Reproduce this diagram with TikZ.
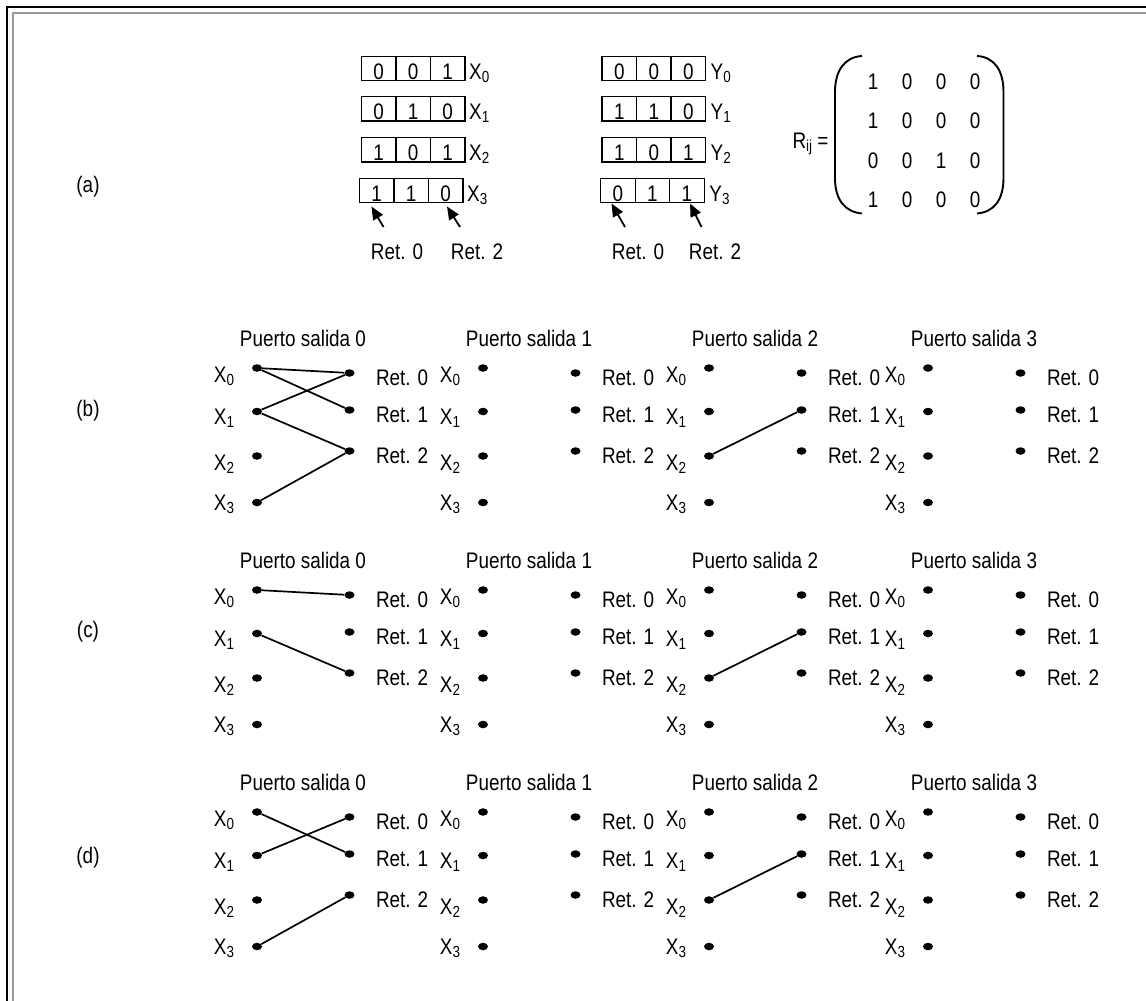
\documentclass[tikz,border=0pt]{standalone}
\usepackage{fontspec}
\setmainfont{Liberation Sans}[FakeStretch=0.84]
\usetikzlibrary{positioning,arrows.meta,shapes.geometric,matrix}

% lowered small index, as in X_0 or R_ij
\newcommand{\idx}[1]{\raisebox{-3pt}{\fontsize{16}{16}\selectfont #1}}

\tikzstyle{cell} = [rectangle, draw, line width=1.4pt, outer sep=0pt,
    inner xsep=0pt, inner ysep=1.2pt, minimum width=34.5pt,
    text height=22pt, text depth=0pt]
\tikzstyle{dotn} = [ellipse, fill, inner sep=0pt, minimum width=10pt, minimum height=7.5pt]
\tikzstyle{wire} = [line width=1.7pt]
\tikzstyle{ptr} = [line width=1.8pt, -{Triangle[length=13pt,width=11pt]}]

\begin{document}
\begin{tikzpicture}[x=1pt, y=-1pt, font=\fontsize{22.5}{26}\selectfont]
    \useasboundingbox (0,0) rectangle (1146,1001);

    % double frame
    \draw[line width=2pt] (1146,6.5) -- (6.5,6.5) -- (6.5,1001);
    \draw[line width=2.2pt, black!40] (1146,12.8) -- (12.8,12.8) -- (12.8,1001);

    \node[anchor=base] (la) at (88,192) {(a)};
    \node[anchor=base] (lb) at (88,416) {(b)};
    \node[anchor=base] (lc) at (88,637) {(c)};
    \node[anchor=base] (ld) at (88,863) {(d)};

    % input words X and output words Y
    \foreach \i/\ca/\cb/\cc/\yy/\xx in {0/0/0/1/68.5/361.5, 1/0/1/0/108.8/361.5,
                                        2/1/0/1/149.7/361.5, 3/1/1/0/190.4/359.5} {
        \node[cell, anchor=west] (x\i-a) at (\xx,\yy) {\ca};
        \node[cell, right=0pt of x\i-a] (x\i-b) {\cb};
        \node[cell, right=0pt of x\i-b] (x\i-c) {\cc};
        \node[base right=4pt of x\i-c, inner sep=0pt] (x\i) {X\idx{\i}};
    }
    \foreach \i/\ca/\cb/\cc/\yy/\xx in {0/0/0/0/68.5/602, 1/1/1/0/108.8/602,
                                        2/1/0/1/149.7/602, 3/0/1/1/190.4/600.7} {
        \node[cell, anchor=west] (y\i-a) at (\xx,\yy) {\ca};
        \node[cell, right=0pt of y\i-a] (y\i-b) {\cb};
        \node[cell, right=0pt of y\i-b] (y\i-c) {\cc};
        \node[base right=5pt of y\i-c, inner sep=0pt] (y\i) {Y\idx{\i}};
    }

    \node[anchor=base] (rx0) at (397,259) {Ret. 0};
    \node[anchor=base] (rx2) at (477,259) {Ret. 2};
    \node[anchor=base] (ry0) at (638,259) {Ret. 0};
    \node[anchor=base] (ry2) at (715,259) {Ret. 2};

    \coordinate (tx0) at (383.5,227);   \coordinate (hx0) at (371.5,206.5);
    \coordinate (tx2) at (460,227);     \coordinate (hx2) at (447,206.5);
    \coordinate (ty0) at (625,227);     \coordinate (hy0) at (611.5,203.5);
    \coordinate (ty2) at (701.5,227);   \coordinate (hy2) at (690,203.5);
    \draw[ptr] (tx0) -- (hx0);
    \draw[ptr] (tx2) -- (hx2);
    \draw[ptr] (ty0) -- (hy0);
    \draw[ptr] (ty2) -- (hy2);

    % matrix R_ij
    \node[anchor=base east] (rij) at (832,148) {R\idx{ij} =};
    \matrix (rm) [matrix of nodes, nodes={minimum width=34pt, minimum height=39.4pt, inner sep=0pt}]
        at (924,140.8) {
        1 & 0 & 0 & 0 \\
        1 & 0 & 0 & 0 \\
        0 & 0 & 1 & 0 \\
        1 & 0 & 0 & 0 \\
    };
    \draw[line width=1.9pt] (862,56) .. controls (845,57) and (835,70) .. (835,92)
        -- (835,178) .. controls (835,200) and (845,212) .. (862,213.5);
    \draw[line width=1.9pt] (977,56) .. controls (994,57) and (1003.5,70) .. (1003.5,92)
        -- (1003.5,178) .. controls (1003.5,200) and (994,212) .. (977,213.5);

    % output ports, one row of four per case
    \foreach \s/\sy in {b/0, c/222, d/444} {
        \foreach \p/\px in {0/0, 1/226, 2/452, 3/671} {
            \node[anchor=base] (\s\p-t) at (303+\px,346+\sy) {Puerto salida \p};
            \foreach \i/\dy/\ly in {0/368/382, 1/411.5/424, 2/456/470, 3/502.5/510} {
                \node[dotn] (\s\p-x\i) at (257+\px,\dy+\sy) {};
                \node[anchor=base] (\s\p-lx\i) at (224+\px,\ly+\sy) {X\idx{\i}};
            }
            \foreach \j/\dy/\ly in {0/373/385, 1/410/422, 2/451/463} {
                \node[dotn] (\s\p-r\j) at (349.5+\px,\dy+\sy) {};
                \node[anchor=base west] (\s\p-lr\j) at (372.5+\px,\ly+\sy) {Ret. \j};
            }
        }
    }

    \draw[wire] (b0-x0) -- (b0-r0);
    \draw[wire] (b0-x0) -- (b0-r1);
    \draw[wire] (b0-x1) -- (b0-r0);
    \draw[wire] (b0-x1) -- (b0-r2);
    \draw[wire] (b0-x3) -- (b0-r2);
    \draw[wire] (b2-x2) -- (b2-r1);

    \draw[wire] (c0-x0) -- (c0-r0);
    \draw[wire] (c0-x1) -- (c0-r2);
    \draw[wire] (c2-x2) -- (c2-r1);

    \draw[wire] (d0-x0) -- (d0-r1);
    \draw[wire] (d0-x1) -- (d0-r0);
    \draw[wire] (d0-x3) -- (d0-r2);
    \draw[wire] (d2-x2) -- (d2-r1);
\end{tikzpicture}
\end{document}
